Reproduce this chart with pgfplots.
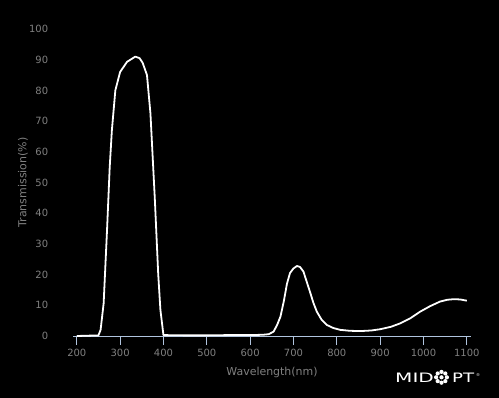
\documentclass[border=0pt]{standalone}
\usepackage{graphicx}
\usepackage{pgfplots}
\pgfplotsset{compat=1.18}
\usepackage{fontspec}
\setmainfont{DejaVu Sans}
\definecolor{axisblue}{RGB}{176,196,222}
\definecolor{ticklbl}{RGB}{128,128,128}
\begin{document}
\begin{tikzpicture}
\fill[black, use as bounding box] (-73.3bp,-62bp) rectangle (425.7bp,336bp);
\begin{axis}[
  at={(0,0)}, anchor=south west,
  scale only axis, width=397.4bp, height=307bp,
  xmin=192, xmax=1109, ymin=0, ymax=100,
  axis x line=bottom, axis y line*=left,
  x axis line style={-, color=axisblue, line width=1pt},
  y axis line style={draw=none},
  xtick={200,300,...,1100}, ytick={0,10,...,100},
  tick align=outside, major tick length=9bp,
  xtick style={color=axisblue, line width=1pt},
  ytick style={draw=none},
  /pgf/number format/assume math mode=true,
  /pgf/number format/1000 sep={},
  ticklabel style={font=\fontsize{10}{12}\selectfont, text=ticklbl},
  xticklabel style={anchor=north, yshift=-0.5bp},
  yticklabel style={anchor=east, inner sep=0pt, xshift=-16bp},
  xlabel={Wavelength(nm)}, ylabel={Transmission(\%)},
  label style={font=\fontsize{11}{13}\selectfont, text=ticklbl},
  xlabel style={at={(axis description cs:0.5,-0.12)}, anchor=center},
  ylabel style={at={(axis description cs:-0.1266,0.5)}, anchor=center, rotate=0},
  clip=false,
]
\addplot[white, line width=1.8pt, line join=round] coordinates {
(200,0)(250,0.2)(255,2)(262,10.6)(270,35)(276,55)(281,67)(289,80)(300,86)(316,89.3)(335,91)(345,90.5)(352,89)(362,85)(370,72.5)(380,45)(388,20)(393,8.5)(400,0.3)(450,0.2)(500,0.2)(550,0.3)(600,0.3)(630,0.4)(643,0.6)(654,1.4)(662,3.5)(670,6.3)(678,11.5)(685,17)(692,20.5)(700,22)(708,22.8)(715,22.5)(723,21)(731,17.5)(739,14)(746,10.8)(754,7.9)(765,5.3)(777,3.6)(792,2.6)(808,2)(830,1.7)(854,1.6)(880,1.8)(900,2.2)(925,3)(946,4.1)(970,5.8)(992,7.9)(1015,9.7)(1038,11.2)(1055,11.8)(1070,12)(1085,11.9)(1100,11.5)
};
\end{axis}
% logo
\node[white, anchor=base west, inner sep=0pt, font=\fontsize{13}{13}\selectfont] at (321.7bp,-46bp) {\scalebox{1.55}[1]{MID}};
\node[white, anchor=base west, inner sep=0pt, font=\fontsize{13}{13}\selectfont] at (378.7bp,-46bp) {\scalebox{1.4}[1]{PT}};
\fill[white] (368.2bp,-41.3bp) circle (2.1bp);
\foreach \a in {0,45,...,315} {\fill[white] (368.2bp,-41.3bp) ++(\a:5.4bp) circle (2.1bp);}
\node[white, anchor=base west, inner sep=0pt, font=\fontsize{4}{4}\selectfont] at (402.5bp,-40bp) {®};
\end{tikzpicture}
\end{document}
